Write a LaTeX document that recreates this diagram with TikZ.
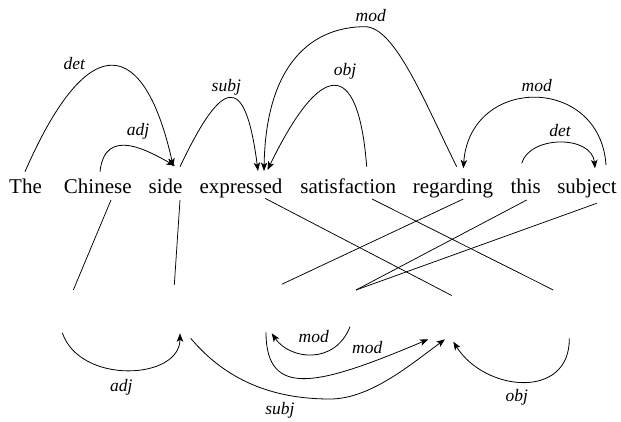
\documentclass[tikz,border=0pt]{standalone}
\usepackage{fontspec}
\setmainfont{Liberation Serif}
\usetikzlibrary{arrows.meta}
\begin{document}
\begin{tikzpicture}[x=1pt,y=-1pt,
  word/.style={inner sep=0pt, anchor=base, font=\fontsize{21}{25}\selectfont},
  lab/.style={inner sep=0pt, anchor=base, font=\fontsize{17.5}{20}\selectfont\itshape},
  dep/.style={line width=0.8pt, -{Stealth[length=8.5pt,width=6.5pt,inset=2.2pt]}},
  aln/.style={line width=0.75pt}]
\useasboundingbox (0,0) rectangle (621,421);
% words
\node[word] (w1) at (25.5,193.3) {The};
\node[word] (w2) at (97.8,193.3) {Chinese};
\node[word] (w3) at (165.5,193.3) {side};
\node[word] (w4) at (241,193.3) {expressed};
\node[word] (w5) at (348.3,193.3) {satisfaction};
\node[word] (w6) at (453,193.3) {regarding};
\node[word] (w7) at (525.7,193.3) {this};
\node[word] (w8) at (587,193.3) {subject};
% arc end points (top)
\coordinate (t1) at (25,171.7);
\coordinate (t2) at (100,171.7);
\coordinate (t3s) at (173.3,166.7);
\coordinate (t3a) at (175,165.7);
\coordinate (t3) at (180,166.7);
\coordinate (t4a) at (258,171);
\coordinate (t4b) at (264,171);
\coordinate (t4c) at (267.5,170);
\coordinate (t5) at (366.7,166.7);
\coordinate (t6) at (456.7,166.7);
\coordinate (t6a) at (463.3,168.3);
\coordinate (t7) at (521.7,163.3);
\coordinate (t8) at (606,165);
\coordinate (t8a) at (595,168.3);
\coordinate (pk) at (365,26.7);
% top arcs
\draw[dep] (t1) .. controls (90,23) and (145,40) .. (t3s);
\node[lab] (l1) at (74.2,69.3) {det};
\draw[dep] (t2) .. controls (105,125) and (150,152) .. (t3a);
\node[lab] (l2) at (138,135) {adj};
\draw[dep] (t3) .. controls (221.7,79) and (245,70) .. (t4a);
\node[lab] (l3) at (226.3,91.7) {subj};
\draw[dep] (t6) .. controls (425,103) and (395,26.7) .. (pk) .. controls (315,26.7) and (266,60) .. (t4b);
\node[lab] (l4) at (370.8,21.7) {mod};
\draw[dep] (t5) .. controls (358,55) and (320,62) .. (t4c);
\node[lab] (l5) at (345,75) {obj};
\draw[dep] (t8) .. controls (600,75) and (470,75) .. (t6a);
\node[lab] (l6) at (536.7,91.7) {mod};
\draw[dep] (t7) .. controls (530,135) and (592,135) .. (t8a);
\node[lab] (l7) at (560,136.7) {det};
% alignment lines
\coordinate (c2) at (111,200);
\coordinate (c3) at (180,200);
\coordinate (c4) at (265,198.3);
\coordinate (c5) at (372,199);
\coordinate (c6) at (463.3,199);
\coordinate (c7) at (526.7,200);
\coordinate (c8) at (596.7,203.3);
\coordinate (L1) at (73.3,290);
\coordinate (L2) at (174.3,285);
\coordinate (L3) at (281.7,284.3);
\coordinate (L4) at (356,290);
\coordinate (L5) at (451.7,295.5);
\coordinate (L6) at (553.3,290);
\draw[aln] (c2) -- (L1);
\draw[aln] (c3) -- (L2);
\draw[aln] (c4) -- (L5);
\draw[aln] (c5) -- (L6);
\draw[aln] (c6) -- (L3);
\draw[aln] (c7) -- (L4);
\draw[aln] (c8) -- (L4);
% bottom arcs
\coordinate (b1) at (62.3,332.7);
\coordinate (b2a) at (180,333.3);
\coordinate (b2) at (190.7,338.3);
\coordinate (b3a) at (271.7,333.3);
\coordinate (b3) at (266,332.3);
\coordinate (b4) at (350,326.7);
\coordinate (b5a) at (428.3,339.3);
\coordinate (b5b) at (445,339.3);
\coordinate (b5c) at (453.3,341.7);
\coordinate (b6) at (569.3,338.3);
\coordinate (bm) at (330,399);
\draw[dep] (b1) .. controls (80,385) and (180,380) .. (b2a);
\node[lab] (m1) at (121.3,391.7) {adj};
\draw[dep] (b2) .. controls (230,385) and (280,399) .. (bm) .. controls (370,399) and (410,365) .. (b5b);
\node[lab] (m2) at (280,414) {subj};
\draw[dep] (b4) .. controls (335,365) and (290,360) .. (b3a);
\node[lab] (m3) at (313.8,342.7) {mod};
\draw[dep] (b3) .. controls (266,400) and (320,385) .. (b5a);
\node[lab] (m4) at (367.2,353.3) {mod};
\draw[dep] (b6) .. controls (570,400) and (485,392) .. (b5c);
\node[lab] (m5) at (516.7,401.7) {obj};
\end{tikzpicture}
\end{document}
